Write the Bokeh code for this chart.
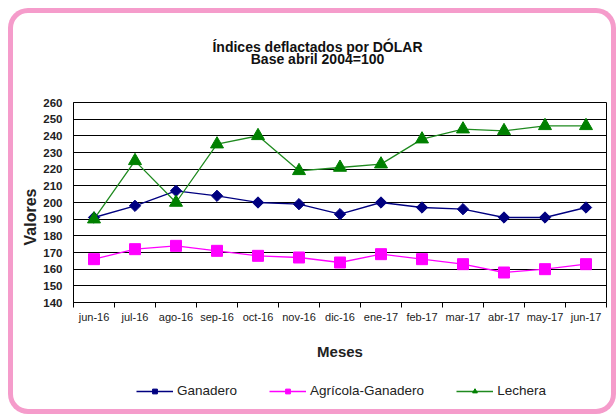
import math
from bokeh.plotting import figure
from bokeh.layouts import column
from bokeh.models import Range1d, FixedTicker, Legend, LegendItem, Title, Label
from bokeh.embed import file_html
from bokeh.resources import INLINE

months = ["jun-16", "jul-16", "ago-16", "sep-16", "oct-16", "nov-16", "dic-16",
          "ene-17", "feb-17", "mar-17", "abr-17", "may-17", "jun-17"]
ganadero = [191, 198, 207, 204, 200, 199, 193, 200, 197, 196, 191, 191, 197]
agricola = [166, 172, 174, 171, 168, 167, 164, 169, 166, 163, 158, 160, 163]
lechera = [190, 225, 200, 235, 240, 219, 221, 223, 238, 244, 243, 246, 246]
series_names = ["Ganadero", "Agrícola-Ganadero", "Lechera"]
y_ticks = list(range(140, 261, 10))

title1 = "Índices deflactados por DÓLAR"
title2 = "Base abril 2004=100"
x_title = "Meses"
y_title = "Valores"

FONT = "Liberation Sans"
W = 608
H_TOP, H_MAIN, H_LEG = 80, 290, 36
FL, FR = 65, 598   # frame left / right in canvas pixels (shared by the column)

styles_ = [
    dict(line_color="#000080", marker="square", angle=math.pi / 4, size=8, fill="#000080"),
    dict(line_color="#FF00FF", marker="square", angle=0.0, size=11, fill="#FF00FF"),
    dict(line_color="#1F8A1F", marker="triangle", angle=0.0, size=13, fill="#008000"),
]
series = [ganadero, agricola, lechera]
xs = list(range(len(months)))


def strip(height):
    f = figure(width=W, height=height, output_backend="svg", toolbar_location=None,
               x_axis_type=None, y_axis_type=None, min_border=0,
               x_range=Range1d(FL, FR), y_range=Range1d(0, height))
    f.outline_line_color = None
    f.background_fill_alpha = 0
    f.border_fill_alpha = 0
    f.grid.visible = False
    return f


# ---- title strip (pixel-like data coordinates, y from bottom)
t = strip(H_TOP)
for txt, yy in [(title1, H_TOP - 38), (title2, H_TOP - 50)]:
    t.add_layout(Label(x=309, y=yy, text=txt, text_align="center", text_baseline="middle",
                       text_font=FONT, text_font_size="14px", text_font_style="bold",
                       text_color="#111111"))

# ---- main chart
p = figure(width=W, height=H_MAIN, output_backend="svg", toolbar_location=None,
           x_range=Range1d(-0.5, len(months) - 0.5), y_range=Range1d(140, 260),
           min_border_left=FL, min_border_right=W - FR, min_border_top=14, min_border_bottom=76)
p.background_fill_color = "white"
p.border_fill_alpha = 0
p.outline_line_color = "black"
p.outline_line_width = 1
p.title.visible = False

p.xaxis.ticker = FixedTicker(ticks=xs, minor_ticks=[i - 0.5 for i in range(len(months) + 1)])
p.xaxis.major_label_overrides = {i: m for i, m in enumerate(months)}
p.xaxis.major_tick_line_color = None
p.xaxis.minor_tick_line_color = "black"
p.xaxis.minor_tick_out = 5
p.xaxis.minor_tick_in = 0
p.xaxis.major_label_standoff = 2
p.xaxis.major_label_text_font = FONT
p.xaxis.major_label_text_font_size = "11px"
p.xaxis.major_label_text_color = "#222222"
p.xaxis.axis_line_color = "black"
p.xaxis.axis_label = x_title
p.xaxis.axis_label_text_font = FONT
p.xaxis.axis_label_text_font_size = "15px"
p.xaxis.axis_label_text_font_style = "bold"
p.xaxis.axis_label_text_color = "#222222"
p.xaxis.axis_label_standoff = 17

p.yaxis.ticker = FixedTicker(ticks=y_ticks)
p.yaxis.major_tick_line_color = None
p.yaxis.minor_tick_line_color = None
p.yaxis.major_tick_out = 0
p.yaxis.major_label_standoff = 11
p.yaxis.major_label_text_font = FONT
p.yaxis.major_label_text_font_size = "11.5px"
p.yaxis.major_label_text_font_style = "bold"
p.yaxis.major_label_text_color = "#222222"
p.yaxis.axis_line_color = "black"

p.xgrid.visible = False
p.ygrid.grid_line_color = "black"
p.ygrid.grid_line_width = 1

for vals, st in zip(series, styles_):
    p.line(xs, vals, line_color=st["line_color"], line_width=1.3)
    p.scatter(xs, vals, marker=st["marker"], angle=st["angle"], size=st["size"],
              fill_color=st["fill"], line_color=st["fill"])

p.add_layout(Title(text=y_title, align="left", offset=57, standoff=4,
                   text_font=FONT, text_font_size="16px", text_font_style="bold",
                   text_color="#222222"), "left")

# ---- legend strip (series drawn off-range here, only their legend samples show)
q = strip(H_LEG)
items = []
for name, vals, st in zip(series_names, series, styles_):
    lr = q.line(xs, vals, line_color=st["line_color"], line_width=1.3)
    sr = q.scatter(xs, vals, marker=st["marker"], angle=st["angle"], size=st["size"],
                   fill_color=st["fill"], line_color=st["fill"])
    items.append(LegendItem(label=name, renderers=[lr, sr]))
legend = Legend(items=items, orientation="horizontal", location=(63, 16),
                padding=0, margin=0, spacing=32, glyph_width=37, glyph_height=12,
                label_standoff=4, label_text_font=FONT, label_text_font_size="13.5px",
                label_text_color="#222222", border_line_color=None,
                background_fill_alpha=0)
q.add_layout(legend, "center")

layout = column(t, p, q, spacing=0, margin=(8, 0, 0, 8),
                styles={"box-shadow": "inset 0 0 0 5px #F59CCB", "border-radius": "20px",
                        "background-color": "white"})

open("out.html", "w").write(file_html(layout, INLINE))
